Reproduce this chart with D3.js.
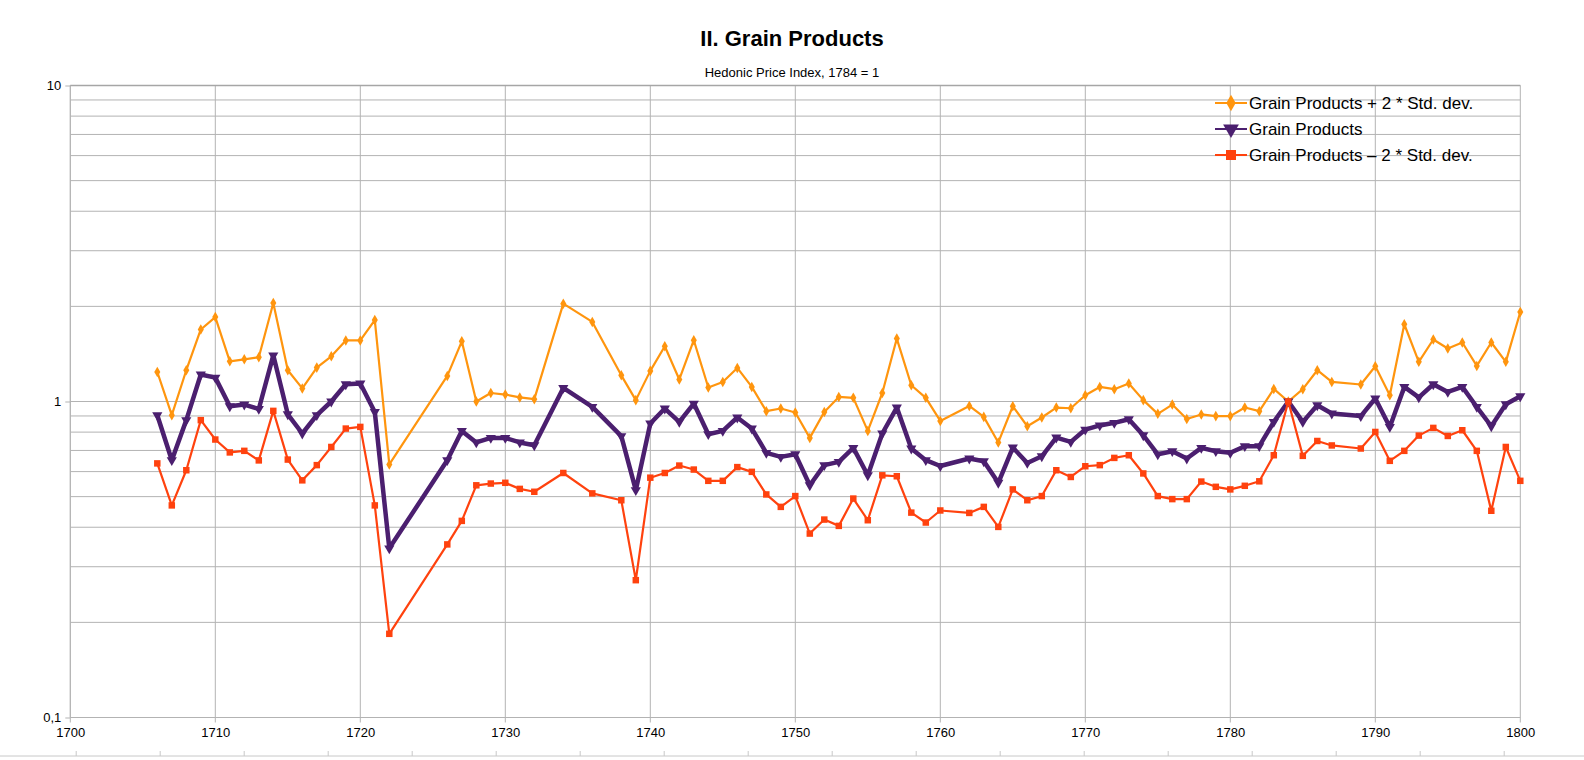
<!DOCTYPE html>
<html>
<head>
<meta charset="utf-8">
<script src="https://cdn.jsdelivr.net/npm/d3@7"></script>
<style>
  body { margin: 0; background: #fff; }
  text { font-family: "Liberation Sans", Arial, sans-serif; }
</style>
</head>
<body>
<div id="my-chart"></div>
<script>

// data
var years = [1706,1707,1708,1709,1710,1711,1712,1713,1714,1715,1716,1717,1718,1719,1720,1721,1722,
  1726,1727,1728,1729,1730,1731,1732,1734,1736,1738,1739,
  1740,1741,1742,1743,1744,1745,1746,1747,1748,1749,1750,1751,1752,1753,1754,1755,1756,1757,1758,1759,1760,
  1762,1763,1764,1765,1766,1767,1768,1769,1770,1771,1772,1773,1774,1775,1776,1777,1778,1779,1780,
  1781,1782,1783,1784,1785,1786,1787,1789,1790,1791,1792,1793,1794,1795,1796,1797,1798,1799,1800];

var upper = [1.24,0.905,1.256,1.69,1.85,1.34,1.36,1.38,2.05,1.256,1.10,1.28,1.39,1.56,1.56,1.81,0.632,
  1.205,1.55,1.00,1.064,1.052,1.03,1.017,2.04,1.786,1.21,1.01,
  1.25,1.496,1.174,1.563,1.107,1.153,1.277,1.112,0.932,0.95,0.923,0.767,0.927,1.034,1.027,0.807,1.064,1.582,1.126,1.027,0.868,
  0.968,0.894,0.742,0.966,0.835,0.890,0.957,0.952,1.047,1.112,1.094,1.14,1.01,0.914,0.978,0.88,0.91,0.899,0.899,
  0.957,0.932,1.096,1.0,1.094,1.256,1.153,1.132,1.293,1.047,1.756,1.335,1.571,1.472,1.537,1.296,1.537,1.335,1.92];

var index = [0.905,0.652,0.873,1.217,1.19,0.966,0.978,0.947,1.40,0.911,0.792,0.905,1.0,1.134,1.14,0.927,0.343,
  0.652,0.807,0.742,0.767,0.767,0.742,0.727,1.104,0.961,0.777,0.524,
  0.852,0.950,0.862,0.985,0.788,0.807,0.890,0.821,0.688,0.668,0.681,0.543,0.629,0.644,0.713,0.584,0.792,0.957,0.710,0.652,0.625,
  0.660,0.647,0.553,0.715,0.639,0.671,0.769,0.745,0.815,0.840,0.856,0.879,0.782,0.680,0.696,0.660,0.713,0.696,0.688,
  0.722,0.722,0.862,1.0,0.862,0.973,0.916,0.899,1.022,0.831,1.112,1.03,1.134,1.072,1.112,0.961,0.835,0.98,1.039];

var lower = [0.637,0.469,0.606,0.873,0.758,0.690,0.698,0.651,0.934,0.655,0.563,0.629,0.718,0.821,0.831,0.469,0.184,
  0.353,0.419,0.543,0.550,0.553,0.529,0.518,0.594,0.512,0.487,0.272,
  0.574,0.594,0.627,0.609,0.561,0.561,0.620,0.599,0.508,0.464,0.502,0.382,0.423,0.404,0.493,0.421,0.584,0.580,0.445,0.414,0.452,
  0.444,0.464,0.401,0.527,0.487,0.502,0.606,0.577,0.624,0.629,0.663,0.676,0.592,0.502,0.491,0.491,0.558,0.537,0.527,
  0.541,0.559,0.676,1.0,0.673,0.750,0.726,0.710,0.801,0.649,0.698,0.78,0.825,0.778,0.811,0.698,0.451,0.718,0.561];

var seriesNames = ["Grain Products + 2 * Std. dev.", "Grain Products", "Grain Products \u2013 2 * Std. dev."];
var xTicks = [1700,1710,1720,1730,1740,1750,1760,1770,1780,1790,1800];
var yTicks = [0.1, 1, 10];

var W = 1584, H = 760;
var plotL = 70.3, plotR = 1520.3, plotT = 85.5, plotB = 717.5;

var svg = d3.select("#my-chart")
    .append("svg")
    .attr("width", W)
    .attr("height", H);

var x = d3.scaleLinear().domain([1700, 1800]).range([plotL, plotR]);
var y = d3.scaleLog().domain([0.1, 10]).range([plotB, plotT]);

var grid = "#b3b3b3";

// horizontal grid, major and minor decades
var minor = [];
[0.1, 1].forEach(function(d) { for (var k = 2; k <= 9; k++) minor.push(d * k); });
svg.append("g").selectAll("line").data(minor.concat(yTicks)).join("line")
    .attr("x1", plotL).attr("x2", plotR)
    .attr("y1", function(d) { return y(d); }).attr("y2", function(d) { return y(d); })
    .attr("stroke", grid).attr("stroke-width", 1);

// vertical grid
svg.append("g").selectAll("line").data(xTicks).join("line")
    .attr("x1", function(d) { return x(d); }).attr("x2", function(d) { return x(d); })
    .attr("y1", plotT).attr("y2", plotB + 5)
    .attr("stroke", grid).attr("stroke-width", 1);

// axes
svg.append("line").attr("x1", plotL).attr("x2", plotL).attr("y1", plotT).attr("y2", plotB)
    .attr("stroke", grid);
svg.append("line").attr("x1", plotL).attr("x2", plotR).attr("y1", plotT).attr("y2", plotT)
    .attr("stroke", "#a6a6a6").attr("stroke-width", 1.5);

var yAxis = d3.axisLeft(y).tickValues(yTicks).tickSize(5).tickPadding(4)
    .tickFormat(function(d) { return String(d).replace(".", ","); });
var gy = svg.append("g").attr("transform", "translate(" + plotL + ",0)").call(yAxis);
gy.select(".domain").remove();
gy.selectAll("line").attr("stroke", grid);
gy.selectAll("text").attr("font-size", 13).attr("fill", "#000")
    .style("font-family", "'Liberation Sans', Arial, sans-serif");

var xAxis = d3.axisBottom(x).tickValues(xTicks).tickSize(0).tickPadding(10)
    .tickFormat(d3.format("d"));
var gx = svg.append("g").attr("transform", "translate(0," + plotB + ")").call(xAxis);
gx.select(".domain").remove();
gx.selectAll("text").attr("font-size", 13).attr("fill", "#000")
    .style("font-family", "'Liberation Sans', Arial, sans-serif");

// stray axis line at the bottom edge
var xb = d3.scaleLinear().domain([0, 17]).range([75.7, 1503.7]);
var gb = svg.append("g").attr("transform", "translate(0,756)")
    .call(d3.axisTop(xb).ticks(17).tickSize(5).tickFormat(""));
gb.select(".domain").attr("d", "M0,0H" + W).attr("stroke", "#c8c8c8");
gb.selectAll("line").attr("stroke", "#c8c8c8");

// titles
svg.append("text").attr("x", 792).attr("y", 46).attr("text-anchor", "middle")
    .attr("font-size", 22).attr("font-weight", "bold").text("II. Grain Products");
svg.append("text").attr("x", 792).attr("y", 77).attr("text-anchor", "middle")
    .attr("font-size", 13).text("Hedonic Price Index, 1784 = 1");

// series
var series = [
  {name: seriesNames[0], values: upper, color: "#ff950e", width: 2.2, sym: d3.symbolDiamond, size: 32, rot: 0},
  {name: seriesNames[1], values: index, color: "#4b1f6f", width: 4.5, sym: d3.symbolTriangle, size: 45, rot: 180},
  {name: seriesNames[2], values: lower, color: "#ff420e", width: 2.2, sym: d3.symbolSquare, size: 42, rot: 0}
];

var line = d3.line()
    .x(function(d, i) { return x(years[i]); })
    .y(function(d) { return y(d); });

series.forEach(function(s) {
  svg.append("path")
      .datum(s.values)
      .attr("fill", "none")
      .attr("stroke", s.color)
      .attr("stroke-width", s.width)
      .attr("stroke-linejoin", "round")
      .attr("d", line);
  svg.append("g").selectAll("path").data(s.values).join("path")
      .attr("d", d3.symbol().type(s.sym).size(s.size))
      .attr("transform", function(d, i) {
        return "translate(" + x(years[i]) + "," + y(d) + ") rotate(" + s.rot + ")";
      })
      .attr("fill", s.color);
});

// legend
var legend = svg.append("g").attr("transform", "translate(1215,103)");
series.forEach(function(s, i) {
  var g = legend.append("g").attr("transform", "translate(0," + (i * 26) + ")");
  g.append("line").attr("x1", 0).attr("x2", 32).attr("y1", 0).attr("y2", 0)
      .attr("stroke", s.color).attr("stroke-width", 2);
  g.append("path").attr("d", d3.symbol().type(s.sym).size(s.size * 2.4))
      .attr("transform", "translate(16,0) rotate(" + s.rot + ")")
      .attr("fill", s.color);
  g.append("text").attr("x", 34).attr("y", 6).attr("font-size", 17).text(s.name);
});

</script>
</body>
</html>
